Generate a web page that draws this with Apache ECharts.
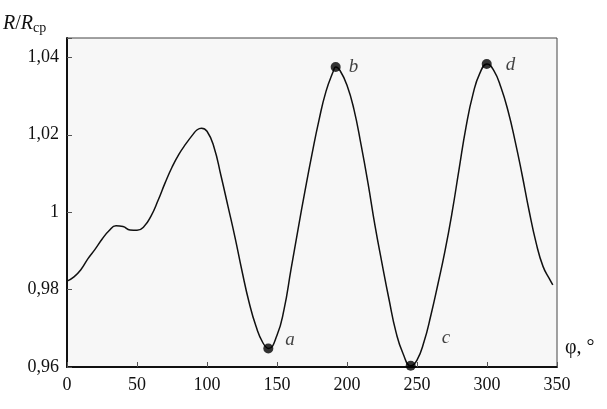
<!DOCTYPE html>
<html>
<head>
<meta charset="utf-8">
<script src="https://cdn.jsdelivr.net/npm/echarts@6/dist/echarts.min.js"></script>
<style>
  html, body { margin: 0; padding: 0; background: #fff; }
  #chart { width: 607px; height: 409px; }
</style>
</head>
<body>
<div id="chart"></div>
<script>
// угол, градусы
const phi = [0, 5, 10, 15, 20, 25, 30, 35, 40, 45, 50, 55, 60, 65, 70, 75, 80, 85, 90, 93, 96,
  100, 105, 110, 115, 120, 125, 130, 135, 140, 144, 150, 155, 160, 165, 170, 175, 180, 185,
  190, 192, 195, 200, 205, 210, 215, 220, 225, 230, 235, 240, 245.5, 250, 255, 260, 265, 270,
  275, 280, 285, 290, 295, 300, 305, 310, 315, 320, 325, 330, 335, 340, 345, 347]
// R / Rср
const ratio = [0.9822, 0.9833, 0.9852, 0.9880, 0.9904, 0.9930, 0.9952, 0.9965, 0.9963, 0.9954,
  0.9953, 0.9963, 0.9990, 1.0030, 1.0075, 1.0116, 1.0150, 1.0177, 1.0201, 1.0213, 1.0217,
  1.0209, 1.0168, 1.0094, 1.0015, 0.9935, 0.9848, 0.9768, 0.9705, 0.9662, 0.9648, 0.9682,
  0.9748, 0.9852, 0.9955, 1.0055, 1.0150, 1.0238, 1.0312,
  1.0362, 1.0375, 1.0366, 1.0328, 1.0265, 1.0175, 1.0075, 0.9965, 0.9868, 0.9775, 0.9690,
  0.9635, 0.9603, 0.9618, 0.9665, 0.9735, 0.9815, 0.9900,
  0.9998, 1.0110, 1.0220, 1.0305, 1.0360, 1.0383, 1.0365, 1.0322, 1.0262, 1.0185, 1.0098,
  1.0005, 0.9922, 0.9860, 0.9825, 0.9812]

// отмеченные точки
const pointNames = ['a', 'b', 'c', 'd']
const pointPhi = [143.8, 191.9, 245.5, 299.8]
const pointRatio = [0.9648, 1.0375, 0.9603, 1.0383]
const labelOffsets = [[4, -8], [0, 0], [18, -28], [6, 1]]

const chart = echarts.init(document.getElementById('chart'))

const serif = 'Liberation Serif'

chart.setOption({
  animation: false,
  grid: {
    left: 67, top: 38, right: 50, bottom: 42,
    show: true,
    backgroundColor: '#f7f7f7',
    borderColor: '#444',
    borderWidth: 1
  },
  graphic: [
    {
      type: 'text', left: 3, top: 14,
      style: {
        text: '{i|R}{n|/}{i|R}{s|ср}',
        rich: {
          i: { fontFamily: serif, fontStyle: 'italic', fontSize: 20, fill: '#111' },
          n: { fontFamily: serif, fontSize: 20, fill: '#111' },
          s: { fontFamily: serif, fontSize: 14, fill: '#111', padding: [8, 0, 0, 0] }
        }
      }
    },
    {
      type: 'text', left: 565, top: 338,
      style: {
        text: 'φ, °',
        fontFamily: serif, fontSize: 20, fill: '#111'
      }
    }
  ],
  xAxis: {
    type: 'value',
    min: 0, max: 350, interval: 50,
    axisLine: { onZero: false, lineStyle: { color: '#111', width: 2 } },
    axisTick: { inside: true, length: 5, lineStyle: { color: '#555' } },
    axisLabel: { fontFamily: serif, fontSize: 18, color: '#111', margin: 9 },
    splitLine: { show: false }
  },
  yAxis: {
    type: 'value',
    min: 0.96, max: 1.045, interval: 0.02,
    axisLine: { show: true, onZero: false, lineStyle: { color: '#111', width: 2 } },
    axisTick: { show: true, inside: true, length: 5, lineStyle: { color: '#555' } },
    axisLabel: {
      fontFamily: serif, fontSize: 18, color: '#111', margin: 8,
      formatter: v => {
        const k = Math.round((v - 0.96) / 0.02)
        if (Math.abs(v - (0.96 + k * 0.02)) > 1e-6) return ''
        return String(parseFloat(v.toFixed(2))).replace('.', ',')
      }
    },
    splitLine: { show: false }
  },
  series: [
    {
      type: 'line',
      data: phi.map((p, i) => [p, ratio[i]]),
      smooth: 0.5,
      showSymbol: false,
      lineStyle: { color: '#111', width: 1.5 },
      z: 2
    },
    {
      type: 'scatter',
      data: pointNames.map((n, i) => ({
        value: [pointPhi[i], pointRatio[i]],
        name: n,
        label: { offset: labelOffsets[i] }
      })),
      symbolSize: 10,
      itemStyle: { color: '#000' },
      label: {
        show: true,
        position: 'right',
        distance: 8,
        formatter: p => p.name,
        fontFamily: serif,
        fontStyle: 'italic',
        fontSize: 19,
        color: '#111'
      },
      z: 3
    }
  ]
})
</script>
</body>
</html>
